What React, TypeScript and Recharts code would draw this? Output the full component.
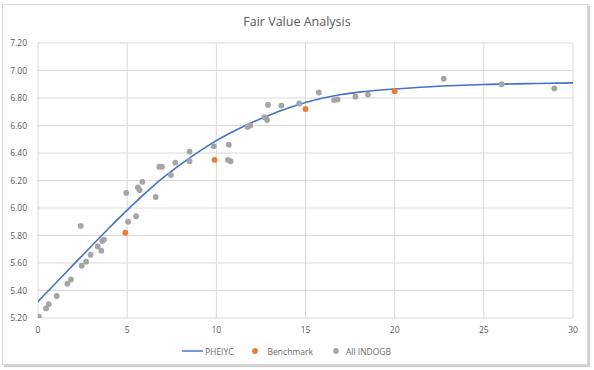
import React from 'react';
import { ComposedChart, Line, Scatter, XAxis, YAxis, CartesianGrid, Legend } from 'recharts';

// PHEIYC fitted yield curve (tenor, yield)
const curveTenors = [0, 1, 2, 3, 4, 5, 6, 7, 8, 9, 10, 11, 12, 13, 14, 15, 16, 17, 18, 20, 22, 25, 28, 30];
const curveYields = [5.32, 5.455, 5.59, 5.724, 5.856, 5.984, 6.106, 6.219, 6.318, 6.408, 6.49, 6.56, 6.622, 6.677, 6.725, 6.767, 6.8, 6.825, 6.843, 6.866, 6.882, 6.898, 6.906, 6.91];

// Benchmark bonds
const benchTenors = [4.9, 9.9, 15.0, 20.0];
const benchYields = [5.82, 6.35, 6.72, 6.85];

// All INDOGB bonds
const bondTenors = [0.05, 0.45, 0.6, 1.05, 1.65, 1.85, 2.4, 2.45, 2.7, 2.95, 3.35, 3.55, 3.6, 3.7, 4.95, 5.05, 5.5, 5.6, 5.7, 5.85, 6.6, 6.8, 6.95, 7.45, 7.7, 8.5, 8.5, 9.85, 10.65, 10.7, 10.8, 11.75, 11.9, 12.7, 12.85, 12.9, 13.65, 14.65, 15.75, 16.6, 16.8, 17.8, 18.5, 22.75, 26.0, 28.95];
const bondYields = [5.21, 5.27, 5.3, 5.36, 5.45, 5.48, 5.87, 5.58, 5.61, 5.66, 5.72, 5.69, 5.76, 5.77, 6.11, 5.9, 5.94, 6.15, 6.13, 6.19, 6.08, 6.3, 6.3, 6.24, 6.33, 6.34, 6.41, 6.45, 6.35, 6.46, 6.34, 6.59, 6.6, 6.66, 6.64, 6.75, 6.745, 6.76, 6.84, 6.785, 6.79, 6.81, 6.825, 6.94, 6.9, 6.87];

const xTicks = [0, 5, 10, 15, 20, 25, 30];
const yTicks = [5.2, 5.4, 5.6, 5.8, 6.0, 6.2, 6.4, 6.6, 6.8, 7.0, 7.2];

const curveData = curveTenors.map((x, i) => ({ x, y: curveYields[i] }));
const benchData = benchTenors.map((x, i) => ({ x, y: benchYields[i] }));
const bondData = bondTenors.map((x, i) => ({ x, y: bondYields[i] }));

const FONT = '"Open Sans", sans-serif';
const TEXT = '#595959';
const BLUE = '#4472C4';
const ORANGE = '#ED7D31';
const GRAY = '#A5A5A5';

const dot = (color: string) => (props: any) => (
  <circle cx={props.cx} cy={props.cy} r={2.9} fill={color} />
);

const LegendContent = () => (
  <div style={{ display: 'flex', justifyContent: 'center', alignItems: 'center', height: 22, fontFamily: FONT, fontSize: 8.5, color: '#6a6a6a' }}>
    <svg width={21} height={6} style={{ marginRight: 2 }}>
      <line x1={0} y1={3} x2={21} y2={3} stroke={BLUE} strokeWidth={1.5} />
    </svg>
    <span>PHEIYC</span>
    <svg width={8} height={8} style={{ marginLeft: 17, marginRight: 9 }}>
      <circle cx={4} cy={4} r={2.9} fill={ORANGE} />
    </svg>
    <span>Benchmark</span>
    <svg width={8} height={8} style={{ marginLeft: 19, marginRight: 6 }}>
      <circle cx={4} cy={4} r={2.9} fill={GRAY} />
    </svg>
    <span>All INDOGB</span>
  </div>
);

export default function App() {
  return (
    <div style={{ position: 'absolute', left: 0, top: 0, width: 594, height: 370, background: '#fff' }}>
      <div style={{ position: 'absolute', left: 2, top: 4, width: 584, height: 359, border: '1px solid #d9d9d9', boxShadow: '2px 2px 1px #d0d0d0' }} />
      <div style={{ position: 'absolute', left: 0, top: 13, width: 594, textAlign: 'center', fontFamily: FONT, fontSize: 12.5, color: TEXT }}>
        Fair Value Analysis
      </div>
      <div style={{ position: 'absolute', left: 0, top: 0 }}>
        <ComposedChart width={594} height={370} margin={{ top: 43, right: 21, bottom: 8, left: 0 }}>
          <CartesianGrid stroke="#d9d9d9" strokeWidth={1} />
          <XAxis
            type="number"
            dataKey="x"
            domain={[0, 30]}
            ticks={xTicks}
            allowDataOverflow
            axisLine={false}
            tickLine={false}
            tickSize={0}
            tickMargin={9}
            height={22}
            tick={{ fill: TEXT, fontSize: 8.5, fontFamily: FONT }}
          />
          <YAxis
            type="number"
            dataKey="y"
            domain={[5.2, 7.2]}
            ticks={yTicks}
            allowDataOverflow
            axisLine={false}
            tickLine={false}
            tickSize={0}
            tickMargin={11}
            width={38}
            tickFormatter={(v: number) => v.toFixed(2)}
            tick={{ fill: TEXT, fontSize: 8.5, fontFamily: FONT }}
          />
          <Legend verticalAlign="bottom" height={22} content={<LegendContent />} />
          <Line data={curveData} dataKey="y" type="monotone" stroke={BLUE} strokeWidth={1.6} dot={false} activeDot={false} isAnimationActive={false} name="PHEIYC" />
          <Scatter data={benchData} dataKey="y" fill={ORANGE} shape={dot(ORANGE)} isAnimationActive={false} name="Benchmark" />
          <Scatter data={bondData} dataKey="y" fill={GRAY} shape={dot(GRAY)} isAnimationActive={false} name="All INDOGB" />
        </ComposedChart>
      </div>
    </div>
  );
}
